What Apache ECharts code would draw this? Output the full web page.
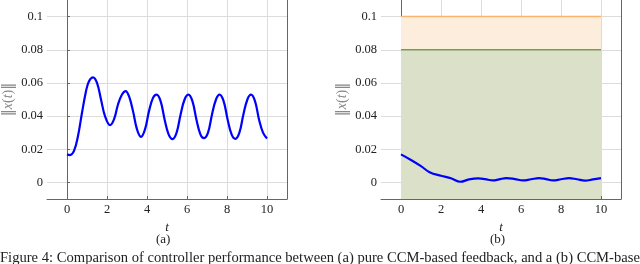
<!DOCTYPE html>
<html>
<head>
<meta charset="utf-8">
<script src="https://cdn.jsdelivr.net/npm/echarts@6/dist/echarts.min.js"></script>
<style>
html,body{margin:0;padding:0;background:#fff;}
#c{width:640px;height:264px;}
</style>
</head>
<body>
<div id="c"></div>
<script>
// ---- data ----
var xTicks = [0, 2, 4, 6, 8, 10];
var yTicks = [0, 0.02, 0.04, 0.06, 0.08, 0.1];

var tA = [0,0.15,0.35,0.55,0.75,0.95,1.1,1.3,1.5,1.7,1.9,2.15,2.35,2.55,2.75,2.93,3.1,3.3,3.5,3.7,3.9,4.1,4.3,4.48,4.68,4.88,5.08,5.28,5.48,5.68,5.88,6.07,6.27,6.47,6.67,6.85,7.05,7.25,7.45,7.63,7.83,8.03,8.23,8.42,8.62,8.82,9.02,9.2,9.4,9.6,9.8,10];
var yA = [0.0169,0.0165,0.019,0.028,0.042,0.055,0.061,0.0634,0.060,0.050,0.040,0.0346,0.038,0.047,0.053,0.0551,0.052,0.043,0.032,0.0275,0.032,0.043,0.051,0.0529,0.049,0.038,0.029,0.0261,0.030,0.041,0.050,0.0529,0.049,0.038,0.029,0.0267,0.030,0.041,0.050,0.0529,0.049,0.038,0.029,0.0263,0.030,0.041,0.050,0.0529,0.049,0.038,0.030,0.0265];

var tB = [0,0.5,1,1.43,2,2.5,2.97,3.4,3.87,4.2,4.6,4.9,5.27,5.7,6.1,6.5,6.9,7.25,7.6,8.0,8.4,8.8,9.2,9.6,10];
var yB = [0.0169,0.0135,0.0098,0.0062,0.0040,0.0025,0.0004,0.0018,0.0024,0.0020,0.0012,0.0018,0.0026,0.0020,0.0012,0.0019,0.0026,0.0020,0.0012,0.0019,0.0026,0.0019,0.0011,0.0018,0.0026];

var bandX = [0, 10];
var innerBound = [0.08, 0.08];
var outerBound = [0.1, 0.1];

// ---- chart ----
var FONT = 'Liberation Serif';
function zip(a, b) { return a.map(function (v, i) { return [v, b[i]]; }); }
function fmt(v) { return String(+(+v).toFixed(2)); }

var grids = [
  {left: 47, top: 0, width: 240, height: 199},
  {left: 381, top: 0, width: 240, height: 199}
];

var xAxes = [], yAxes = [];
[0, 1].forEach(function (g) {
  xAxes.push({
    type: 'value', gridIndex: g, min: -1, max: 11,
    name: 't', nameLocation: 'middle', nameGap: 19,
    nameTextStyle: {fontFamily: FONT, fontStyle: 'italic', fontSize: 13, color: '#222'},
    axisLine: {show: true, onZero: false, lineStyle: {color: '#666', width: 1}},
    axisTick: {show: true, inside: true, length: 3, customValues: xTicks, lineStyle: {color: '#666'}},
    axisLabel: {customValues: xTicks, formatter: fmt, textStyle: {fontFamily: FONT}, fontFamily: 'serif', fontSize: 12.5, color: '#222', margin: 4},
    splitLine: {show: true, lineStyle: {color: '#dcdcdc', width: 1}}
  });
  yAxes.push({
    type: 'value', gridIndex: g, min: -0.01, max: 0.11,
    name: '{b|‖}{i|x}{n|(}{i|t}{n|)}{b|‖}', nameLocation: 'middle', nameGap: 32,
    nameTextStyle: {fontFamily: FONT, fontSize: 14, color: '#888',
      rich: {
        i: {fontFamily: FONT, fontStyle: 'italic', fontSize: 14, color: '#888'},
        n: {fontFamily: FONT, fontSize: 14, color: '#888'},
        b: {fontFamily: 'DejaVu Serif', fontSize: 14, color: '#888'}
      }},
    axisLine: {show: true, lineStyle: {color: '#666', width: 1}},
    axisTick: {show: true, inside: true, length: 3, customValues: yTicks, lineStyle: {color: '#666'}},
    axisLabel: {customValues: yTicks, formatter: fmt, fontFamily: 'serif', fontSize: 12.5, color: '#222', margin: 4},
    splitLine: {show: true, lineStyle: {color: '#dcdcdc', width: 1}}
  });
  yAxes.push({
    type: 'value', gridIndex: g, min: -0.01, max: 0.11, position: 'right',
    axisLine: {show: true, lineStyle: {color: '#666', width: 1}},
    axisTick: {show: false}, axisLabel: {show: false}, splitLine: {show: false}
  });
});

var option = {
  animation: false,
  backgroundColor: '#fff',
  textStyle: {fontFamily: FONT},
  grid: grids,
  xAxis: xAxes,
  yAxis: yAxes,
  series: [
    {
      type: 'line', xAxisIndex: 0, yAxisIndex: 0, data: zip(tA, yA),
      smooth: 0.4, showSymbol: false, lineStyle: {color: '#0000ff', width: 2.2}, z: 5
    },
    {
      type: 'line', xAxisIndex: 1, yAxisIndex: 2, data: zip(bandX, outerBound),
      showSymbol: false, lineStyle: {color: '#fbb46e', width: 1.5},
      areaStyle: {color: '#fdeddc', opacity: 1, origin: 'start'}, z: 1
    },
    {
      type: 'line', xAxisIndex: 1, yAxisIndex: 2, data: zip(bandX, innerBound),
      showSymbol: false, lineStyle: {color: '#7a9a52', width: 1.6},
      areaStyle: {color: '#dae1c8', opacity: 1, origin: 'start'}, z: 2
    },
    {
      type: 'line', xAxisIndex: 1, yAxisIndex: 2, data: [[0, -0.01], [10, -0.01]],
      showSymbol: false, lineStyle: {width: 0},
      areaStyle: {color: '#ffffff', opacity: 1, origin: 'start'}, z: 3, silent: true
    },
    {
      type: 'line', xAxisIndex: 1, yAxisIndex: 2, data: zip(tB, yB),
      smooth: 0.4, showSymbol: false, lineStyle: {color: '#0000ff', width: 2.2}, z: 5
    }
  ],
  graphic: [
    {type: 'text', left: 156, top: 233, style: {text: '(a)', font: '13px "Liberation Serif"', fill: '#222'}},
    {type: 'text', left: 490, top: 233, style: {text: '(b)', font: '13px "Liberation Serif"', fill: '#222'}},
    {type: 'text', left: 0, top: 251, style: {text: 'Figure 4: Comparison of controller performance between (a) pure CCM-based feedback, and a (b) CCM-based feedback', font: '14.6px "Liberation Serif"', fill: '#222'}}
  ]
};

var chart = echarts.init(document.getElementById('c'), null, {renderer: 'canvas'});
chart.setOption(option);
</script>
</body>
</html>
